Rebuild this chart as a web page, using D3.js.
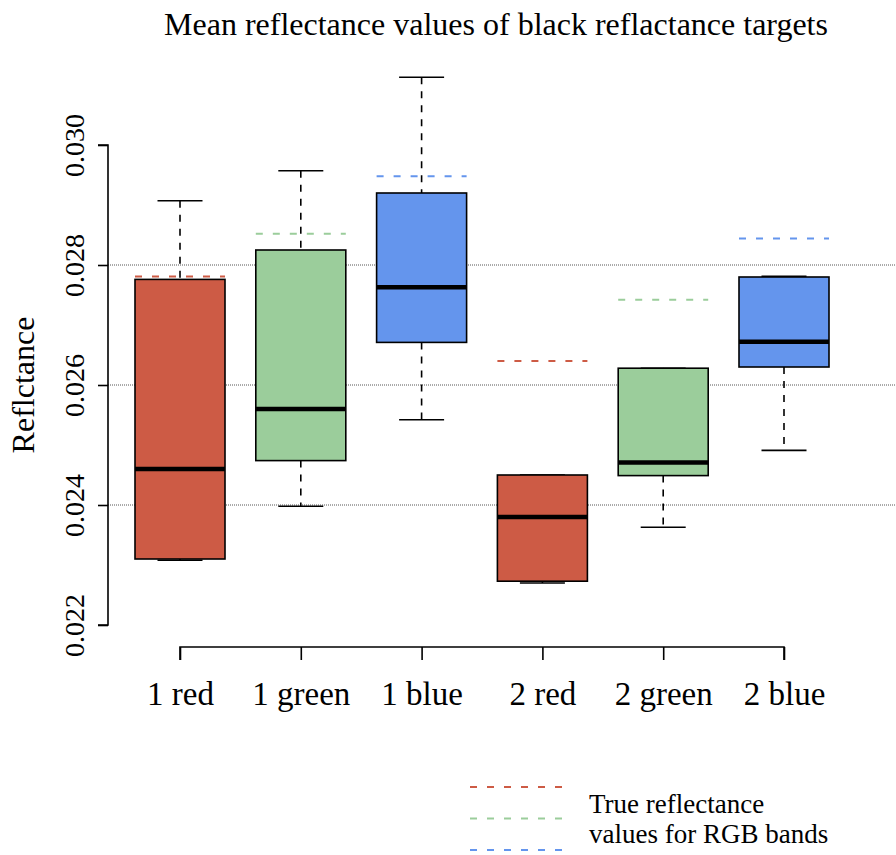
<!DOCTYPE html>
<html>
<head>
<meta charset="utf-8">
<script src="https://cdn.jsdelivr.net/npm/d3@7"></script>
<style>
  body { margin: 0; background: #fff; }
  svg text { font-family: "Liberation Serif", "DejaVu Serif", serif; fill: #000; }
</style>
</head>
<body>
<svg width="896" height="855"></svg>
<script>
// box summary per band
var categories = ["1 red", "1 green", "1 blue", "2 red", "2 green", "2 blue"];
var whiskerLow  = [0.02308, 0.02398, 0.02542, 0.02270, 0.02363, 0.02491];
var q1          = [0.02310, 0.02474, 0.02671, 0.02273, 0.02449, 0.02630];
var medians     = [0.02460, 0.02560, 0.02763, 0.02380, 0.02471, 0.02672];
var q3          = [0.02776, 0.02825, 0.02920, 0.02450, 0.02628, 0.02780];
var whiskerHigh = [0.02907, 0.02957, 0.03113, 0.02450, 0.02628, 0.02781];
var trueValues  = [0.02781, 0.02852, 0.02948, 0.02640, 0.02742, 0.02844];
var yTicks = [0.022, 0.024, 0.026, 0.028, 0.030];
var gridTicks = [0.024, 0.026, 0.028];
var legendLines = ["True reflectance", "values for RGB bands"];

var fills = ["#CD5B45", "#9BCD9B", "#6495ED", "#CD5B45", "#9BCD9B", "#6495ED"];
var legendColors = ["#CD5B45", "#9BCD9B", "#6495ED"];

var serif = "Liberation Serif";
var svg = d3.select("svg");

var x = d3.scaleLinear().domain([0, 5]).range([180, 784]);
var y = d3.scaleLinear().domain([0.022, 0.030]).range([625, 145]);
var boxW = 90;

var data = categories.map(function(c, i) {
  return {name: c, lo: whiskerLow[i], q1: q1[i], med: medians[i], q3: q3[i],
          hi: whiskerHigh[i], tv: trueValues[i], fill: fills[i], i: i};
});

// grid lines
svg.append("g").selectAll("line").data(gridTicks).enter().append("line")
    .attr("x1", 108).attr("x2", 896)
    .attr("y1", function(d) { return y(d); }).attr("y2", function(d) { return y(d); })
    .style("stroke", "#555").style("stroke-width", 1).style("stroke-dasharray", "1,1");

var g = svg.append("g");
var box = g.selectAll("g.box").data(data).enter().append("g").attr("class", "box");

// whiskers
box.append("line")
    .attr("x1", function(d) { return x(d.i); }).attr("x2", function(d) { return x(d.i); })
    .attr("y1", function(d) { return y(d.hi); }).attr("y2", function(d) { return y(d.q3); })
    .style("stroke", "#000").style("stroke-width", 1.6).style("stroke-dasharray", "7,7");
box.append("line")
    .attr("x1", function(d) { return x(d.i); }).attr("x2", function(d) { return x(d.i); })
    .attr("y1", function(d) { return y(d.q1); }).attr("y2", function(d) { return y(d.lo); })
    .style("stroke", "#000").style("stroke-width", 1.6).style("stroke-dasharray", "7,7");
["hi", "lo"].forEach(function(k) {
  box.append("line")
      .attr("x1", function(d) { return x(d.i) - boxW / 4; })
      .attr("x2", function(d) { return x(d.i) + boxW / 4; })
      .attr("y1", function(d) { return y(d[k]); }).attr("y2", function(d) { return y(d[k]); })
      .style("stroke", "#000").style("stroke-width", 1.6);
});

// boxes
box.append("rect")
    .attr("x", function(d) { return x(d.i) - boxW / 2; })
    .attr("width", boxW)
    .attr("y", function(d) { return y(d.q3); })
    .attr("height", function(d) { return y(d.q1) - y(d.q3); })
    .style("fill", function(d) { return d.fill; })
    .style("stroke", "#000").style("stroke-width", 1.6);

box.append("line")
    .attr("x1", function(d) { return x(d.i) - boxW / 2; })
    .attr("x2", function(d) { return x(d.i) + boxW / 2; })
    .attr("y1", function(d) { return y(d.med); }).attr("y2", function(d) { return y(d.med); })
    .style("stroke", "#000").style("stroke-width", 4.5);

// true reflectance dashes
box.append("line")
    .attr("x1", function(d) { return x(d.i) - boxW / 2; })
    .attr("x2", function(d) { return x(d.i) + boxW / 2; })
    .attr("y1", function(d) { return y(d.tv); }).attr("y2", function(d) { return y(d.tv); })
    .style("stroke", function(d) { return d.fill; })
    .style("stroke-width", 2).style("stroke-dasharray", "7,10");

// y axis
var yAxis = svg.append("g").attr("transform", "translate(108,0)")
    .call(d3.axisLeft(y).tickValues(yTicks).tickFormat(d3.format(".3f")).tickSize(10).tickPadding(8));
yAxis.attr("font-family", serif).attr("font-size", 28);
yAxis.select(".domain").attr("d", "M-10," + y(0.030) + "H0V" + y(0.022) + "H-10")
    .style("stroke-width", 1.6);
yAxis.selectAll(".tick line").style("stroke-width", 1.6);
yAxis.selectAll(".tick text")
    .attr("transform", "rotate(-90)")
    .attr("x", 0).attr("y", -34)
    .attr("dy", "0.35em")
    .style("text-anchor", "middle")
    .style("font-family", serif)
    .style("font-size", "28px");

// x axis
var xAxis = svg.append("g").attr("transform", "translate(0,647)")
    .call(d3.axisBottom(x).tickValues(d3.range(categories.length))
      .tickFormat(function(i) { return categories[i]; }).tickSize(13).tickPadding(22));
xAxis.attr("font-family", serif).attr("font-size", 33);
xAxis.select(".domain").attr("d", "M" + x(0) + ",13V0H" + x(5) + "V13")
    .style("stroke-width", 1.6);
xAxis.selectAll(".tick line").style("stroke-width", 1.6);
xAxis.selectAll(".tick text")
    .style("font-family", serif)
    .style("font-size", "33px");

// titles
svg.append("text").attr("x", 496).attr("y", 35)
    .style("text-anchor", "middle").style("font-size", "32px")
    .text("Mean reflectance values of black reflactance targets");

svg.append("text")
    .attr("transform", "translate(34,385) rotate(-90)")
    .style("text-anchor", "middle").style("font-size", "32px")
    .text("Reflctance");

// legend
svg.append("g").selectAll("line").data(legendColors).enter().append("line")
    .attr("x1", 470).attr("x2", 562)
    .attr("y1", function(d, i) { return 787 + i * 31.5; })
    .attr("y2", function(d, i) { return 787 + i * 31.5; })
    .style("stroke", function(d) { return d; })
    .style("stroke-width", 2).style("stroke-dasharray", "7,10");

svg.append("g").selectAll("text").data(legendLines).enter().append("text")
    .attr("x", 589)
    .attr("y", function(d, i) { return 813 + i * 30; })
    .style("font-size", "27px")
    .text(function(d) { return d; });
</script>
</body>
</html>
